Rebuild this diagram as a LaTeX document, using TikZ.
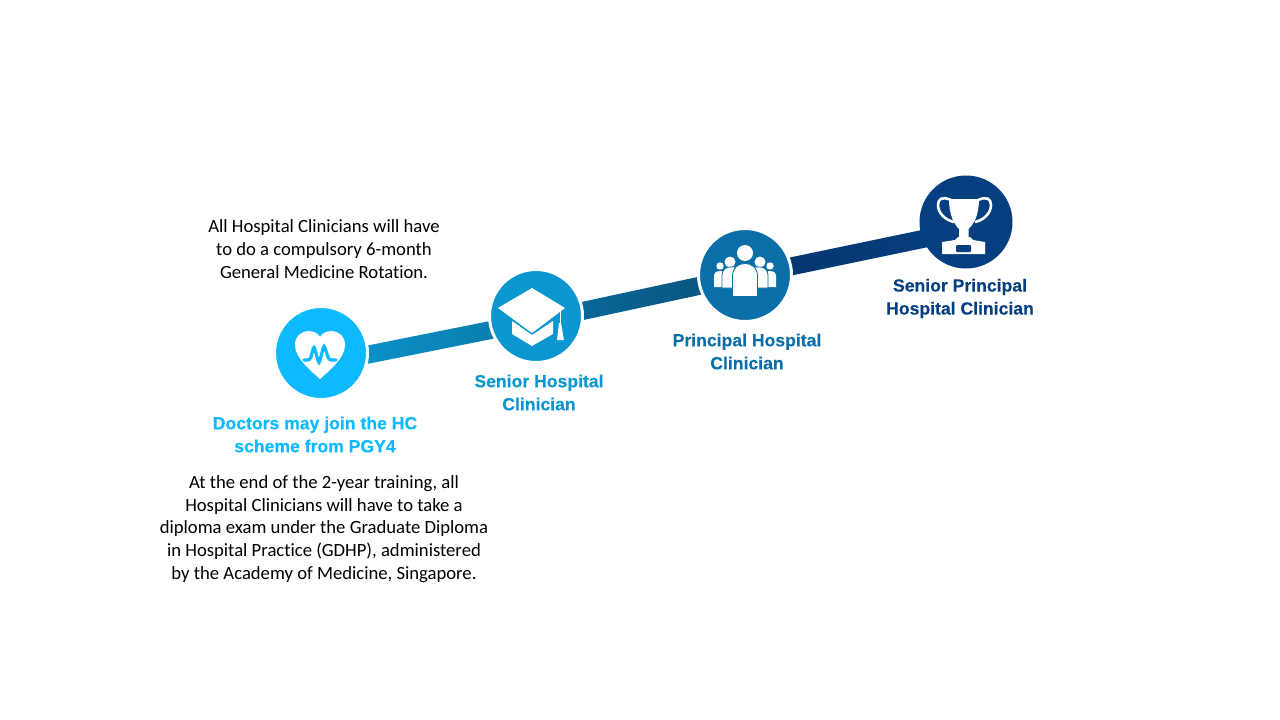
\documentclass[tikz,border=0pt]{standalone}
\usepackage{fontspec}
\setmainfont{Carlito}[Ligatures=NoCommon]
\newfontfamily\labelfont{Liberation Sans}[BoldFeatures={FakeBold=0.25}]
\usetikzlibrary{backgrounds,calc}

\definecolor{colA}{RGB}{13,185,255}
\definecolor{colB}{RGB}{12,150,208}
\definecolor{colC}{RGB}{10,110,168}
\definecolor{colD}{RGB}{6,63,128}

\begin{document}
\begin{tikzpicture}[
    x=1pt,y=-1pt,
    stage/.style={
        shape=circle,
        draw=white,
        line width=3pt,
        inner sep=0pt,
        minimum size=93pt,
    },
    rank/.style={
        align=center,
        font={\labelfont\bfseries\fontsize{17.6}{23}\selectfont},
    },
    note/.style={
        align=center,
        text=black,
        font={\fontsize{18.67}{22.8}\selectfont},
    },
    icon/.style={fill=white,draw=none},
]

\useasboundingbox (0,0) rectangle (1280,720);

\def\WD{9pt}  %half width of ribbon

\node[stage,fill=colA] (heart) at (321,353) {};
\node[stage,fill=colB] (cap)   at (536,316) {};
\node[stage,fill=colC] (team)  at (745,275) {};
\node[stage,fill=colD,draw=none,minimum size=93pt] (cup) at (966,222) {};

\coordinate (R1) at ($(heart)+(0,11)$);
\coordinate (R2) at ($(cap)+(0,5)$);
\coordinate (R3) at ($(team)+(0,1)$);
\coordinate (R4) at ($(cup)+(0,8)$);

\begin{scope}[on background layer]
\foreach \a/\b/\cl/\cr in {R1/R2/colB/colB!80!black, R2/R3/colC!90!teal/colC!70!black, R3/R4/colD!85!black/colD}
    \shade[left color=\cl,right color=\cr]
        ($(\a)!\WD!90:(\b)$) -- ($(\b)!\WD!-90:(\a)$) -- ($(\b)!\WD!90:(\a)$) -- ($(\a)!\WD!-90:(\b)$) -- cycle;
\end{scope}

%heart
\fill[icon] (320,379) .. controls (310,370) and (295,358) .. (295,345)
    .. controls (295,336) and (302,331) .. (308,331)
    .. controls (313,331) and (318,333) .. (320,337)
    .. controls (322,333) and (327,331) .. (332,331)
    .. controls (338,331) and (345,336) .. (345,345)
    .. controls (345,358) and (330,370) .. (320,379) -- cycle;
\draw[colA,line width=3.2pt,rounded corners=2.5pt,line cap=round]
    (304,360) -- (310,360) -- (314,346) -- (319,364) -- (324,345) -- (329,360) -- (336,360);

%cap
\fill[icon] (532,288) -- (565,308) -- (532,333) -- (498,308) -- cycle;
\fill[icon] (512,321) -- (532,335) -- (553,321) -- (553,334) -- (532,346) -- (512,334) -- cycle;
\draw[white,line width=1pt] (560,311) -- (560,325);
\fill[icon] (559,323) -- (561,323) -- (564,340) -- (557,340) -- cycle;

%team
\fill[icon] (720,266) circle (3.7) (770,266) circle (3.7);
\fill[icon] (714,287) -- (714,275) .. controls (714,272) and (717,271) .. (720,271) -- (722,271) -- (722,287) -- cycle;
\fill[icon] (776,287) -- (776,275) .. controls (776,272) and (773,271) .. (770,271) -- (768,271) -- (768,287) -- cycle;
\fill[icon] (730,262) circle (5.5) (760,262) circle (5.5);
\filldraw[icon,draw=colC,line width=.8pt] (722,288) -- (722,275) .. controls (722,270) and (726,267) .. (730,267) -- (735,267) -- (735,288) -- cycle;
\filldraw[icon,draw=colC,line width=.8pt] (768,288) -- (768,275) .. controls (768,270) and (764,267) .. (760,267) -- (755,267) -- (755,288) -- cycle;
\fill[icon] (745,253) circle (8);
\filldraw[icon,draw=colC,line width=.8pt] (732.5,296.5) -- (732.5,276) .. controls (732.5,268) and (738,263.5) .. (745,263.5)
    .. controls (752,263.5) and (757.5,268) .. (757.5,276) -- (757.5,296.5) -- cycle;

%cup
\draw[white,line width=2.6pt] (951,200) .. controls (942,196) and (938,199) .. (938,205)
    .. controls (938,213) and (945,220) .. (954,222);
\draw[white,line width=2.6pt] (978,200) .. controls (987,196) and (991,199) .. (991,205)
    .. controls (991,213) and (984,220) .. (975,222);
\fill[icon] (949,199) -- (979,199) .. controls (979,215) and (974,224) .. (968.5,229)
    -- (968.5,239) -- (959,239) -- (959,229)
    .. controls (954,224) and (949,215) .. (949,199) -- cycle;
\fill[icon] (942,254) -- (942,242) -- (955,240) -- (958,237) -- (970,237) -- (973,240) -- (985,242) -- (985,254) -- cycle;
\fill[colD,rounded corners=1pt] (956,245) rectangle (971,252);

\node[rank,text=colA] (heartlabel) at (315,434.5) {Doctors may join the HC\\scheme from PGY4};
\node[rank,text=colB] (caplabel)   at (539,392.5) {Senior Hospital\\Clinician};
\node[rank,text=colC] (teamlabel)  at (747,351.5) {Principal Hospital\\Clinician};
\node[rank,text=colD] (cuplabel)   at (960,298.5) {Senior Principal\\Hospital Clinician};

\node[note] (topnote) at (324,249) {All Hospital Clinicians will have\\to do a compulsory 6-month\\General Medicine Rotation.};
\node[note] (botnote) at (324,529) {At the end of the 2-year training, all\\Hospital Clinicians will have to take a\\diploma exam under the Graduate Diploma\\in Hospital Practice (GDHP), administered\\by the Academy of Medicine, Singapore.};

\end{tikzpicture}
\end{document}
